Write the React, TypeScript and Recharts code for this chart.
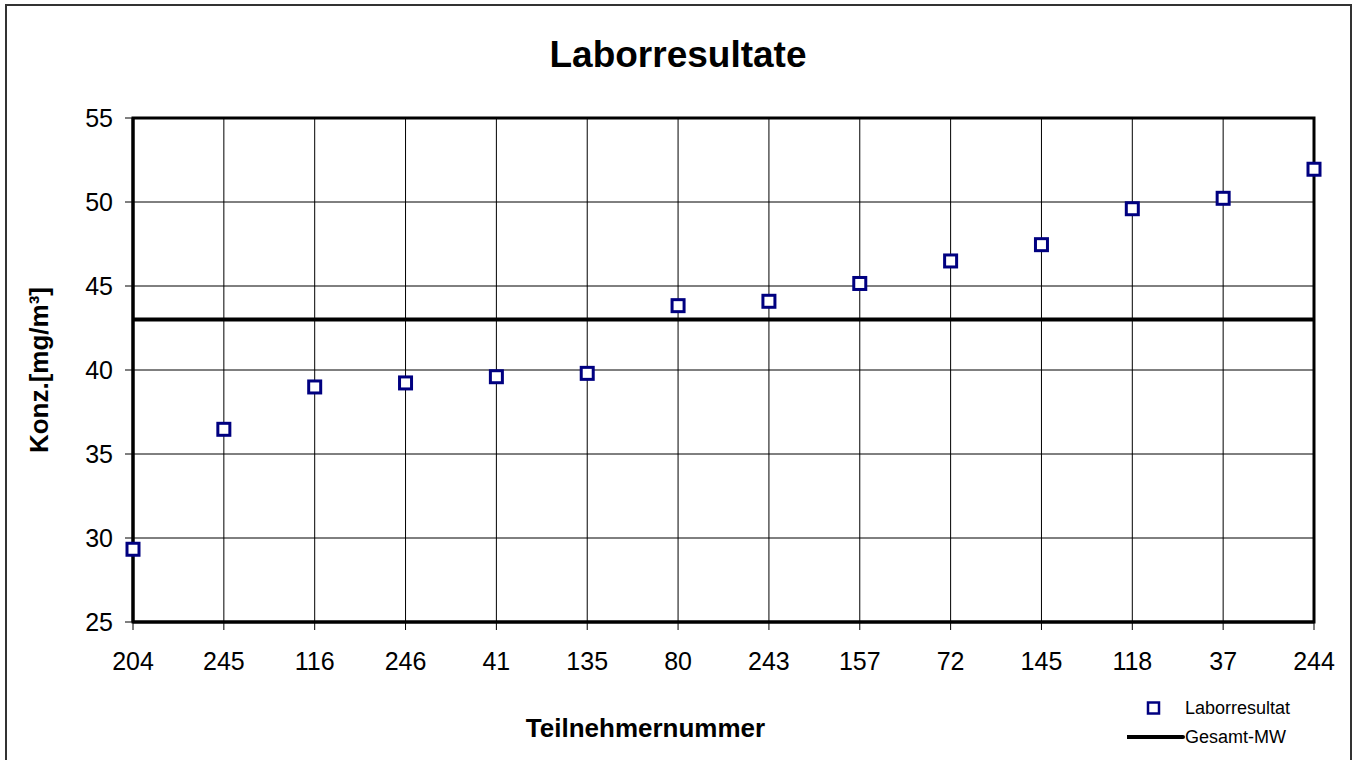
import React from "react";
import { ComposedChart, Line, XAxis, YAxis, CartesianGrid, ReferenceLine, ReferenceArea } from "recharts";

const TEILNEHMER = ["204", "245", "116", "246", "41", "135", "80", "243", "157", "72", "145", "118", "37", "244"];
const LABORRESULTAT = [29.33, 36.47, 38.99, 39.23, 39.6, 39.8, 43.83, 44.09, 45.15, 46.49, 47.46, 49.6, 50.22, 51.95];
const GESAMT_MW = 43.0;
const Y_TICKS = [25, 30, 35, 40, 45, 50, 55];

const FONT = "'Liberation Sans', Arial, sans-serif";
const NAVY = "#000080";

const data = TEILNEHMER.map((id, i) => ({ id, wert: LABORRESULTAT[i] }));

const Square = (props: any) => {
  const { cx, cy, index } = props;
  if (cx == null || cy == null) return <g key={index} />;
  return (
    <rect key={index} x={cx - 6} y={cy - 6} width={12} height={12} fill="#fff" stroke={NAVY} strokeWidth={3} />
  );
};

export default function App() {
  return (
    <div style={{ position: "absolute", left: 0, top: 0, width: 1356, height: 760, background: "#fff", fontFamily: FONT, overflow: "hidden" }}>
      <div style={{ position: "absolute", left: 5, top: 4, width: 1343, height: 760, border: "2px solid #333" }} />
      <div style={{ position: "absolute", left: 0, top: 36, width: 1356, textAlign: "center", fontSize: 37, lineHeight: "37px", fontWeight: "bold", color: "#000" }}>
        Laborresultate
      </div>

      <div style={{ position: "absolute", left: 0, top: 0 }}>
        <ComposedChart width={1356} height={760} data={data} margin={{ top: 118, right: 42, bottom: 8, left: 5 }}>
          <CartesianGrid stroke="#000" strokeWidth={1} />
          <XAxis
            dataKey="id"
            type="category"
            scale="point"
            padding={{ left: 0, right: 0 }}
            height={130}
            interval={0}
            tickSize={8}
            tickMargin={22}
            tick={{ fill: "#000", fontSize: 25, fontFamily: FONT }}
            tickLine={{ stroke: "#000", strokeWidth: 1 }}
            axisLine={{ stroke: "#000", strokeWidth: 3 }}
            label={{ value: "Teilnehmernummer", position: "insideBottom", offset: 15, dx: -78, style: { fontSize: 26, fontWeight: "bold", fill: "#000", fontFamily: FONT } }}
          />
          <YAxis
            type="number"
            domain={[25, 55]}
            ticks={Y_TICKS}
            allowDataOverflow
            width={128}
            tickSize={8}
            tickMargin={12}
            tick={{ fill: "#000", fontSize: 25, fontFamily: FONT }}
            tickLine={{ stroke: "#000", strokeWidth: 1 }}
            axisLine={{ stroke: "#000", strokeWidth: 3 }}
            label={{ value: "Konz.[mg/m³]", angle: -90, position: "insideLeft", offset: 34, style: { textAnchor: "middle", fontSize: 26, fontWeight: "bold", fill: "#000", fontFamily: FONT } }}
          />
          <ReferenceArea
            x1={TEILNEHMER[0]}
            x2={TEILNEHMER[TEILNEHMER.length - 1]}
            y1={Y_TICKS[0]}
            y2={Y_TICKS[Y_TICKS.length - 1]}
            fill="none"
            fillOpacity={0}
            stroke="#000"
            strokeWidth={3}
            strokeOpacity={1}
          />
          <ReferenceLine y={GESAMT_MW} stroke="#000" strokeWidth={4} />
          <Line
            dataKey="wert"
            stroke="none"
            dot={Square}
            activeDot={false}
            isAnimationActive={false}
          />
        </ComposedChart>
      </div>

      <div style={{ position: "absolute", left: 1127, top: 699, fontSize: 18, lineHeight: "18px", color: "#000" }}>
        <div style={{ display: "flex", alignItems: "center", height: 18 }}>
          <svg width={58} height={18}>
            <rect x={21} y={3.5} width={11} height={11} fill="#fff" stroke={NAVY} strokeWidth={2.5} />
          </svg>
          <span>Laborresultat</span>
        </div>
        <div style={{ display: "flex", alignItems: "center", height: 18, marginTop: 11 }}>
          <svg width={58} height={18}>
            <line x1={0} y1={9} x2={56} y2={9} stroke="#000" strokeWidth={4} strokeLinecap="round" />
          </svg>
          <span>Gesamt-MW</span>
        </div>
      </div>
    </div>
  );
}
